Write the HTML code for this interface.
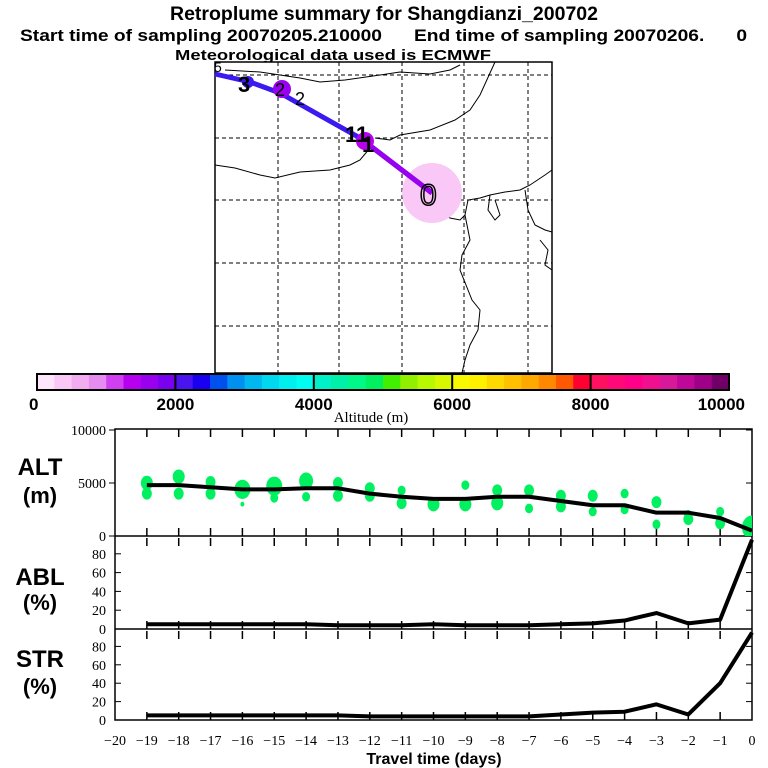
<!DOCTYPE html>
<html><head><meta charset="utf-8"><style>
body{margin:0;background:#fff;width:768px;height:768px;overflow:hidden}
svg{display:block}
text{font-family:"Liberation Sans",sans-serif;white-space:pre}
.b{font-weight:bold}
.s{font-family:"Liberation Serif",serif}
</style></head><body>
<svg id="chart" width="768" height="768" viewBox="0 0 768 768" xmlns="http://www.w3.org/2000/svg">
<g>
<text x="384" y="20" text-anchor="middle" class="b" font-size="19" textLength="428" lengthAdjust="spacingAndGlyphs">Retroplume summary for Shangdianzi_200702</text>
<text x="20" y="41" class="b" font-size="17" xml:space="preserve" textLength="727" lengthAdjust="spacingAndGlyphs">Start time of sampling 20070205.210000      End time of sampling 20070206.      0</text>
<text x="333" y="60" text-anchor="middle" class="b" font-size="15" textLength="316" lengthAdjust="spacingAndGlyphs">Meteorological data used is ECMWF</text>
</g>
<g id="map">
<rect x="215" y="62" width="337" height="311" fill="#fff" stroke="#000" stroke-width="1.5"/>
<g stroke="#000" stroke-dasharray="4,3" stroke-width="1">
<line x1="278" y1="62" x2="278" y2="373"/><line x1="339" y1="62" x2="339" y2="373"/><line x1="402" y1="62" x2="402" y2="373"/><line x1="464" y1="62" x2="464" y2="373"/><line x1="528" y1="62" x2="528" y2="373"/>
<line x1="215" y1="75" x2="552" y2="75"/><line x1="215" y1="138" x2="552" y2="138"/><line x1="215" y1="200" x2="552" y2="200"/><line x1="215" y1="263" x2="552" y2="263"/><line x1="215" y1="326" x2="552" y2="326"/>
</g>
<g fill="none" stroke="#000" stroke-width="1">
<path d="M225 70 L260 72 L300 78 L320 82 L345 80 L380 75 L400 72 L430 74 L450 70 L460 65"/>
<path d="M495 62 L480 95 L470 110 L455 120 L430 130 L400 135 L390 140 L375 138"/>
<path d="M215 165 L235 168 L260 175 L275 178 L300 172 L330 170 L350 165 L360 160 L370 148"/>
<path d="M435 206 L440 212 L450 218 L460 220 L465 215 L468 200 L480 198 L490 195 L505 192 L520 190 L530 185 L545 175 L552 170"/>
<path d="M465 215 L470 240 L462 255 L460 270 L468 290 L472 300 L480 310 L478 330 L470 345 L465 360 L462 373"/>
<path d="M490 195 L488 210 L495 220 L500 215 L495 200"/>
<path d="M525 190 L528 210 L535 225 L545 230 L552 232"/>
<path d="M540 240 L548 250 L545 265 L552 270"/>
</g>
<circle cx="432" cy="193" r="30" fill="#f9c8f6"/>
<polyline points="215,74 250,82 280,93 360,138 432,193" fill="none" stroke="#3a1af0" stroke-width="5"/>
<line x1="360" y1="138" x2="432" y2="193" stroke="#9a00f0" stroke-width="5"/>
<circle cx="282" cy="89" r="9" fill="#9a00f0"/>
<circle cx="365" cy="141" r="9" fill="#b800f0"/>
<circle cx="248" cy="82" r="6" fill="#3a1af0"/>
<g class="s" font-size="22">
<text x="420" y="205" font-size="30" fill="none" stroke="#000" stroke-width="1.5">0</text>
<text x="345" y="142" font-weight="bold">11</text>
<text x="362" y="152" font-weight="bold">1</text>
<text x="275" y="96" font-size="18">2</text><text x="295" y="105" font-size="18">2</text>
<text x="238" y="92" font-weight="bold">3</text>
<text x="214" y="72" font-size="14">5</text>
</g>
</g>
<g id="colorbar"></g>
<text x="371" y="422" text-anchor="middle" class="s" font-size="15">Altitude (m)</text>
<g id="panels"></g>
<text x="434" y="764" text-anchor="middle" class="b" font-size="16">Travel time (days)</text>
</svg>
<script>
const days=[-19,-18,-17,-16,-15,-14,-13,-12,-11,-10,-9,-8,-7,-6,-5,-4,-3,-2,-1,0];
const altValues=[4800,4800,4600,4400,4400,4500,4500,4000,3700,3500,3500,3700,3700,3300,2900,2900,2200,2200,1700,500];
const ablValues=[5,5,5,5,5,5,4,4,4,5,4,4,4,5,6,9,17,6,10,95];
const strValues=[5,5,5,5,5,5,5,4,4,4,4,4,4,6,8,9,17,6,40,95];
const blobDays=[-19,-19,-18,-18,-17,-17,-16,-16,-15,-15,-14,-14,-13,-13,-12,-12,-11,-11,-10,-9,-9,-8,-8,-7,-7,-6,-6,-5,-5,-4,-4,-3,-3,-2,-2,-1,-1,0];
const blobAlts=[5000,4000,5600,4000,5100,4000,4400,3000,4700,3600,5200,3700,5000,3800,4500,3800,4300,3100,3000,4800,3000,4300,3100,4300,2600,3800,2800,3800,2300,4000,2500,3200,1100,2000,1600,2300,1200,800];
const blobSizes=[6,5,6,5,5,5,8,2,8,4,7,4,5,5,5,5,4,5,6,4,6,5,6,5,4,5,5,5,4,4,4,5,4,4,5,4,5,10];
const cbTicks=[0,2000,4000,6000,8000,10000];
const xTicks=[-20,-19,-18,-17,-16,-15,-14,-13,-12,-11,-10,-9,-8,-7,-6,-5,-4,-3,-2,-1,0];
const pctTicks=[0,20,40,60,80];
const cbColors=["#fde6fb","#f9c8f6","#f2acf0","#e68cf0","#d040f0","#b800f0","#9a00f0","#7a00f0","#4a14f0","#1a00f0","#0050f0","#0090f0","#00b8f0","#00d8f0","#00f0f0","#00fff0","#00f0c8","#00f0a8","#00f888","#00f060","#40f000","#90f000","#b8f800","#d8f800","#f8f800","#fff000","#ffd800","#ffc000","#ffa800","#ff8800","#ff5800","#ff0030","#ff1060","#ff0878","#ff0088","#f0108f","#d8189a","#c00898","#a00088","#700068"];
const NS="http://www.w3.org/2000/svg";
function mk(p,t,a){const e=document.createElementNS(NS,t);for(const k in a)e.setAttribute(k,a[k]);p.appendChild(e);return e;}
const cb=document.getElementById('colorbar');
const cbX=v=>37+v/10000*692;
const segW=692/cbColors.length;
cbColors.forEach((c,i)=>{const r=mk(cb,'rect',{x:37+i*segW,y:374,width:segW+0.5,height:16,fill:c});

});
mk(cb,'rect',{x:37,y:374,width:692,height:16,fill:'none',stroke:'#000','stroke-width':2});
cbTicks.forEach(v=>{if(v>0&&v<10000)mk(cb,'line',{x1:cbX(v),y1:374,x2:cbX(v),y2:390,stroke:'#000','stroke-width':2});
const t=mk(cb,'text',{x:cbX(v),y:410,'text-anchor':v==0?'start':(v==10000?'end':'middle'),'font-size':17,'font-weight':'bold'});


t.textContent=v;if(v==0)t.setAttribute('x',29);if(v==10000)t.setAttribute('x',745);});
const P=document.getElementById('panels');
const xS=d=>115+(d+20)/20*637;
const L=115,R=752;
const altY=v=>536-v/10000*106;
const ablY=v=>629-v/100*94;
const strY=v=>720-v/100*92;
mk(P,'rect',{x:L,y:429,width:R-L,height:291,fill:'none',stroke:'#000','stroke-width':1.5});
mk(P,'line',{x1:L,y1:536,x2:R,y2:536,stroke:'#000','stroke-width':1.5});
mk(P,'line',{x1:L,y1:629,x2:R,y2:629,stroke:'#000','stroke-width':1.5});
[[429,536],[538,629],[631,720]].forEach(([t,b])=>{xTicks.forEach(d=>{if(d==-20||d==0)return;
mk(P,'line',{x1:xS(d),y1:t,x2:xS(d),y2:t+8,stroke:'#000','stroke-width':1.5});
mk(P,'line',{x1:xS(d),y1:b,x2:xS(d),y2:b-8,stroke:'#000','stroke-width':1.5});});});
[0,5000,10000].forEach(v=>{const t=mk(P,'text',{x:106,y:altY(v)+5,'text-anchor':'end','font-size':14,'class':'s'});


t.textContent=v;
mk(P,'line',{x1:L,y1:altY(v),x2:L-6,y2:altY(v),stroke:'#000'});mk(P,'line',{x1:R,y1:altY(v),x2:R-6,y2:altY(v),stroke:'#000'});});
pctTicks.forEach(v=>{[[ablY,'abl'],[strY,'str']].forEach(([f,n])=>{
const t=mk(P,'text',{x:106,y:f(v)+5,'text-anchor':'end','font-size':14,'class':'s'});


t.textContent=v;
mk(P,'line',{x1:L,y1:f(v),x2:L+6,y2:f(v),stroke:'#000'});mk(P,'line',{x1:R,y1:f(v),x2:R-6,y2:f(v),stroke:'#000'});});});
const cl=mk(P,'clipPath',{id:'altclip'});mk(cl,'rect',{x:L,y:429,width:R-L,height:107});
const bg=mk(P,'g',{'clip-path':'url(#altclip)'});
blobDays.forEach((d,i)=>{const e=mk(bg,'ellipse',{cx:xS(d),cy:altY(blobAlts[i]),rx:blobSizes[i],ry:blobSizes[i]*1.2,fill:'#00f060'});

});
function line(vals,f,name,g){const p=mk(g||P,'polyline',{points:days.map((d,i)=>xS(d)+','+f(vals[i])).join(' '),fill:'none',stroke:'#000','stroke-width':4,'stroke-linejoin':'round'});

}
line(altValues,altY,'alt-line',bg);
line(ablValues,ablY,'abl-line');
line(strValues,strY,'str-line');
xTicks.forEach(d=>{const t=mk(P,'text',{x:xS(d),y:745,'text-anchor':'middle','font-size':14,'class':'s'});


t.textContent=d<0?'\u2212'+(-d):d;});
[['ALT','(m)',475,503],['ABL','(%)',585,610],['STR','(%)',667,694]].forEach(([a,b,y1,y2])=>{
const t=mk(P,'text',{x:40,y:y1,'text-anchor':'middle','font-size':24,'font-weight':'bold'});


t.textContent=a;
const u=mk(P,'text',{x:40,y:y2,'text-anchor':'middle','font-size':22,'font-weight':'bold'});


u.textContent=b;});
</script>
</body></html>
